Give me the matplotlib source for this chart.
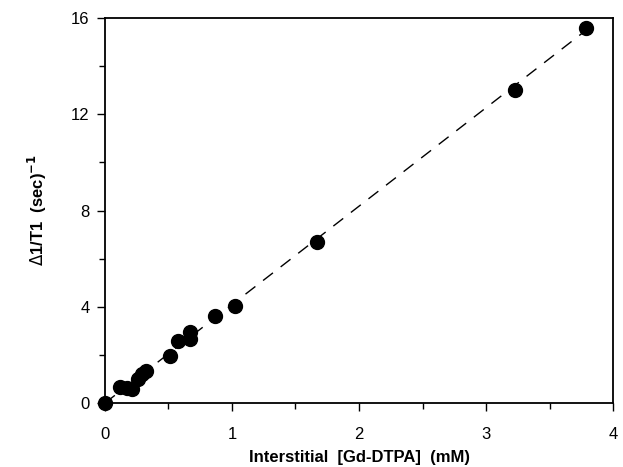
import matplotlib
matplotlib.use("Agg")
import matplotlib.pyplot as plt
from matplotlib.ticker import MultipleLocator

conc = [0.0, 0.12, 0.17, 0.21, 0.26, 0.29, 0.32, 0.51, 0.574, 0.67, 0.67, 0.87, 1.026, 1.668, 3.226, 3.79]
rate = [0.0, 0.65, 0.62, 0.60, 1.00, 1.20, 1.35, 1.95, 2.58, 2.96, 2.65, 3.63, 4.03, 6.69, 13.01, 15.57]
fit_x = [0.0, 3.79]
fit_y = [0.0, 15.5]

plt.rcParams['font.family'] = ['Liberation Sans', 'DejaVu Sans']
fig = plt.figure(figsize=(6.23, 4.67), dpi=100)
ax = fig.add_axes([0.1685, 0.137, 0.8155, 0.8245])

ax.plot(fit_x, fit_y, color='black', lw=1.0, dashes=(9, 7))
ax.plot(conc, rate, 'o', color='black', ms=10, clip_on=False, zorder=3)

ax.set_xlim(0, 4)
ax.set_ylim(0, 16)
ax.xaxis.set_major_locator(MultipleLocator(1))
ax.xaxis.set_minor_locator(MultipleLocator(0.5))
ax.yaxis.set_major_locator(MultipleLocator(4))
ax.yaxis.set_minor_locator(MultipleLocator(2))
ax.tick_params(which='both', direction='out', width=1.0, labelsize=12)
ax.tick_params(axis='y', pad=5)
ax.tick_params(axis='x', pad=11)
ax.tick_params(which='major', length=6)
ax.tick_params(which='minor', length=4)
for s in ax.spines.values():
    s.set_linewidth(1.3)

ax.set_xlabel('Interstitial  [Gd-DTPA]  (mM)', fontsize=12, fontweight='bold', labelpad=6)
ax.set_ylabel(r'$\Delta$1/T1  (sec)$^{\mathbf{-1}}$', fontsize=12, fontweight='bold', labelpad=16)

fig.savefig('out.png', dpi=100)
